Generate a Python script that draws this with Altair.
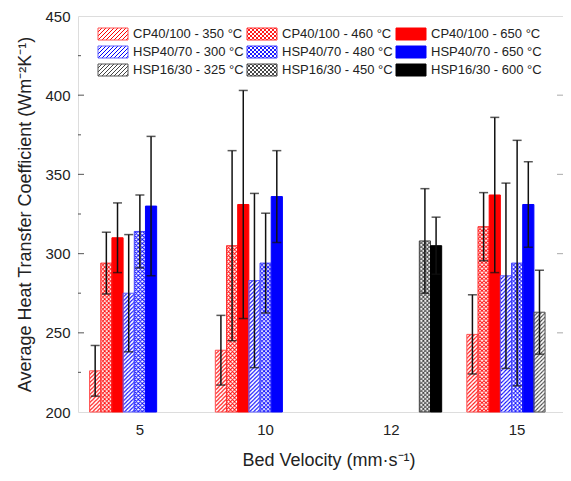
import altair as alt
import pandas as pd
from urllib.parse import quote

# ---------------- data ----------------
groups = ["5", "10", "12", "15"]
series = ["CP40/100 - 350 °C", "CP40/100 - 460 °C", "CP40/100 - 650 °C",
          "HSP40/70 - 300 °C", "HSP40/70 - 480 °C", "HSP40/70 - 650 °C",
          "HSP16/30 - 325 °C", "HSP16/30 - 450 °C", "HSP16/30 - 600 °C"]

cp350_mean = [226, 239, None, 249]
cp350_err = [16, 22, None, 25]
cp460_mean = [294, 305, None, 317]
cp460_err = [19.5, 60, None, 21.5]
cp650_mean = [310, 331, None, 337]
cp650_err = [22, 72, None, 49]
hsp300_mean = [275, 283, None, 286]
hsp300_err = [37, 55, None, 58.5]
hsp480_mean = [314, 294, None, 294]
hsp480_err = [23, 31.5, None, 77.5]
hsp650_mean = [330, 336, None, 331]
hsp650_err = [44, 29, None, 27]
hsp325_mean = [None, None, None, 263]
hsp325_err = [None, None, None, 26.5]
hsp450_mean = [None, None, 308, None]
hsp450_err = [None, None, 33, None]
hsp600_mean = [None, None, 305, None]
hsp600_err = [None, None, 18, None]

y_ticks = [200, 250, 300, 350, 400, 450]
y_minor = [225, 275, 325, 375, 425]

means = [cp350_mean, cp460_mean, cp650_mean, hsp300_mean, hsp480_mean,
         hsp650_mean, hsp325_mean, hsp450_mean, hsp600_mean]
errs = [cp350_err, cp460_err, cp650_err, hsp300_err, hsp480_err,
        hsp650_err, hsp325_err, hsp450_err, hsp600_err]

# ---------------- style ----------------
line_colors = ["#ff0000", "#ff0000", "#ff0000", "#0000ff", "#0000ff", "#0000ff",
               "#444444", "#333333", "#000000"]
outline_colors = ["#ff5050", "#ff3030", "#ff0000", "#6060ff", "#4040ff", "#0000ff",
                  "#555555", "#444444", "#000000"]
tints = ["#ffb8b8", "#ff7070", "#ff0000", "#b8b8ff", "#8080ff", "#0000ff",
         "#bbbbbb", "#888888", "#000000"]
kinds = ["hatch", "cross", "solid"] * 3


def pattern_uri(color, kind):
    if kind == "hatch":
        path = "M-1,1 L1,-1 M0,4 L4,0 M3,5 L5,3"
        sw = 1
    else:
        path = "M0,0 L4,4 M4,0 L0,4 M-1,3 L1,5 M3,-1 L5,1"
        sw = 0.9
    if kind == "solid":
        body = f"<rect width='100%' height='100%' fill='{color}'/>"
    else:
        body = ("<defs><pattern id='p' width='4' height='4' patternUnits='userSpaceOnUse'>"
                f"<path d='{path}' stroke='{color}' stroke-width='{sw}' fill='none'/>"
                "</pattern></defs>"
                "<rect width='100%' height='100%' fill='white'/>"
                "<rect width='100%' height='100%' fill='url(#p)'/>")
    svg = f"<svg xmlns='http://www.w3.org/2000/svg'>{body}</svg>"
    return "data:image/svg+xml;charset=utf-8," + quote(svg)


rows = []
for s in range(len(series)):
    for g in range(len(groups)):
        m = means[s][g]
        if m is None:
            continue
        e = errs[s][g]
        rows.append({"group": groups[g], "slot": s, "series": series[s],
                     "mean": m, "lo": m - e, "hi": m + e, "base": 200,
                     "purl": pattern_uri(line_colors[s], kinds[s]),
                     "kind": kinds[s]})
df = pd.DataFrame(rows)

W, H = 485, 396
PAD = {"left": 70, "top": 8, "right": 0, "bottom": 61}
FONT = "Liberation Sans"

# legend layout (pixels inside plot)
leg_x = [20, 169, 318]
leg_y = [18, 36, 54]
leg_rows = []
for i, name in enumerate(series):
    r, c = i // 3, i % 3
    leg_rows.append({"name": name, "series": name,
                     "x0": leg_x[c], "x1": leg_x[c] + 30,
                     "y0": leg_y[r] - 6, "y1": leg_y[r] + 6,
                     "tx": leg_x[c] + 35, "ty": leg_y[r],
                     "purl": pattern_uri(line_colors[i], kinds[i])})
leg = pd.DataFrame(leg_rows)

xscale = alt.Scale(domain=groups, range=[-1, 502], paddingInner=0.2, paddingOuter=0.1)
xoff = alt.XOffset("slot:N", scale=alt.Scale(domain=list(range(9)), paddingInner=0, paddingOuter=0))
yscale = alt.Scale(domain=[200, 450], nice=False, zero=False)

xaxis = alt.Axis(title="Bed Velocity (mm·s⁻¹)", labelAngle=0, ticks=False, domain=False,
                 labelFontSize=15, labelPadding=10, titleFontSize=18,
                 titleFontWeight="normal", titlePadding=14, labelColor="#222",
                 titleColor="#222", labelFont=FONT, titleFont=FONT)
yaxis = alt.Axis(title="Average Heat Transfer Coefficient (Wm⁻²K⁻¹)",
                 values=y_ticks, ticks=False, domain=False, grid=False,
                 labelFontSize=15, labelPadding=8, titleFontSize=18,
                 titleFontWeight="normal", titlePadding=10, labelColor="#222",
                 titleColor="#222", labelFont=FONT, titleFont=FONT)


def X():
    return alt.X("group:N", scale=xscale, sort=groups, axis=xaxis)


def Y(field):
    return alt.Y(field, scale=yscale, axis=yaxis)


base = alt.Chart(df)

fallback = base.mark_bar().encode(
    x=X(), xOffset=xoff, y=Y("mean:Q"), y2="base:Q",
    fill=alt.Fill("series:N", scale=alt.Scale(domain=series, range=tints), legend=None),
)

images = base.transform_filter(alt.datum.kind != "solid").mark_image(aspect=False).encode(
    x=X(), xOffset=xoff, y=Y("mean:Q"), y2="base:Q", url="purl:N",
)

outline = base.mark_bar(fillOpacity=0, strokeWidth=1).encode(
    x=X(), xOffset=xoff, y=Y("mean:Q"), y2="base:Q",
    stroke=alt.Stroke("series:N", scale=alt.Scale(domain=series, range=outline_colors), legend=None),
)

err_rule = base.mark_rule(color="#111", strokeWidth=1.5).encode(
    x=X(), xOffset=xoff, y=Y("lo:Q"), y2="hi:Q",
)
cap_lo = base.mark_tick(color="#111", thickness=1.5, size=9, orient="horizontal").encode(
    x=X(), xOffset=xoff, y=Y("lo:Q"),
)
cap_hi = base.mark_tick(color="#111", thickness=1.5, size=9, orient="horizontal").encode(
    x=X(), xOffset=xoff, y=Y("hi:Q"),
)

tick_df = pd.DataFrame({"v": y_ticks[1:-1]})
minor_df = pd.DataFrame({"v": y_minor})
major_l = alt.Chart(tick_df).mark_tick(orient="horizontal", size=6, thickness=1.2, color="#333").encode(
    y=Y("v:Q"), x=alt.value(3))
minor_l = alt.Chart(minor_df).mark_tick(orient="horizontal", size=3, thickness=1.2, color="#333").encode(
    y=Y("v:Q"), x=alt.value(1.5))
major_r = alt.Chart(tick_df).mark_tick(orient="horizontal", size=6, thickness=1.2, color="#999").encode(
    y=Y("v:Q"), x=alt.value(W - 3))

legb = alt.Chart(leg)
leg_img = legb.mark_image(aspect=False).encode(
    x=alt.X("x0:Q", scale=None), x2="x1:Q",
    y=alt.Y("y0:Q", scale=None), y2="y1:Q",
    url="purl:N")
leg_box = legb.mark_rect(fillOpacity=0, strokeWidth=1).encode(
    x=alt.X("x0:Q", scale=None), x2="x1:Q",
    y=alt.Y("y0:Q", scale=None), y2="y1:Q",
    stroke=alt.Stroke("series:N", scale=alt.Scale(domain=series, range=outline_colors), legend=None))
leg_txt = legb.mark_text(align="left", baseline="middle", fontSize=13, font=FONT, color="#222").encode(
    x=alt.X("tx:Q", scale=None),
    y=alt.Y("ty:Q", scale=None),
    text="name:N")

chart = alt.layer(
    fallback, images, outline, err_rule, cap_lo, cap_hi,
    major_l, minor_l, major_r, leg_img, leg_box, leg_txt
).properties(
    width=W, height=H,
    padding=PAD,
    autosize=alt.AutoSizeParams(type="none"),
).configure_view(
    stroke="#333", strokeWidth=1.5
).configure(font=FONT)

chart.save("out.html", embed_options={"renderer": "svg", "actions": False})
